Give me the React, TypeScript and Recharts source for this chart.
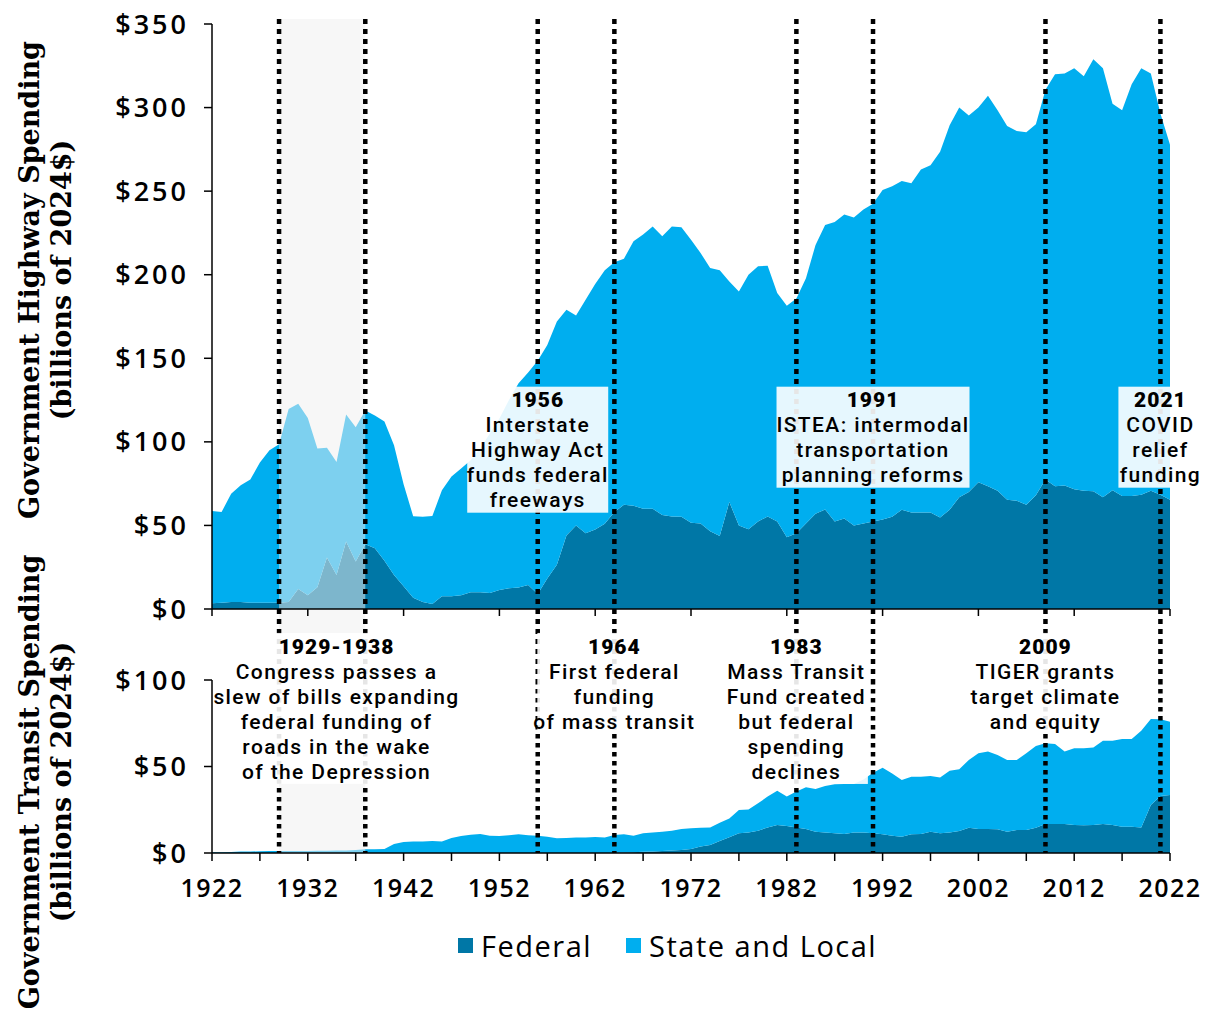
import React from 'react';
import {
  AreaChart,
  Area,
  XAxis,
  YAxis,
  ReferenceLine,
  ReferenceArea,
} from 'recharts';

const years = Array.from({ length: 101 }, (_, i) => 1922 + i);

// Highway spending, billions of 2024$
const hwFederal = [
  3.5, 3.8, 4.2, 4.2, 3.8, 3.8, 3.8, 3.8, 4.2, 12,
  8.2, 13, 30.8, 20.4, 40.4, 28.4, 38.7, 36.4, 28.9, 20.4,
  13.6, 6.8, 4.2, 3, 7.7, 7.7, 8.2, 10, 10, 9.6,
  11.3, 12.4, 12.9, 14.3, 8.9, 18.3, 26.5, 44, 50, 45.3,
  47.6, 51, 58, 62.3, 61.7, 60, 60, 56.3, 55.4, 55.2,
  51.6, 51.2, 46.5, 43.7, 64, 50, 47.7, 52.3, 55.4, 52.3,
  43, 45.3, 51.2, 57, 59.6, 52.3, 54.2, 50, 51.2, 52.3,
  53.5, 55.2, 59.4, 57.7, 57.7, 57.7, 54.7, 59.4, 66.9, 70,
  75.8, 73.5, 70.7, 65.3, 64.8, 62.4, 68, 77.5, 73.5, 73.9,
  71.6, 70.7, 70.4, 66.9, 71.1, 67.6, 67.6, 68.3, 70.7, 68.3,
  65.3,
];
const hwStateLocal = [
  55.2, 54.2, 64.8, 69.8, 73.7, 83.8, 91.2, 94.8, 115.5, 110.8,
  106.1, 83, 65.7, 67.6, 76, 80.3, 80.1, 79.3, 83.3, 77.6,
  61, 48.7, 51, 52.6, 63.3, 71.6, 75.8, 79, 86, 95.4,
  102.7, 112.6, 122.1, 127.2, 139.7, 139.7, 145.5, 135, 125.6, 139.7,
  146.8, 151.6, 149.5, 147.3, 158.3, 164, 168.9, 166.7, 173.5, 173.2,
  169.3, 161.8, 157.5, 158.9, 132, 140, 152.3, 152.7, 150, 136.7,
  138.5, 140.4, 146.7, 160.8, 170.2, 179.2, 181.8, 184.3, 187.8, 190.2,
  197.2, 197.8, 196.6, 197, 205.3, 207.8, 218.8, 230, 233.1, 225.3,
  224.2, 233.5, 227.7, 223.7, 221.2, 222.8, 222, 233.1, 246.5, 246.5,
  251.9, 248.1, 258.5, 256.6, 231.2, 230.8, 246.4, 255.2, 249.7, 228.2,
  212.4,
];

// Transit spending, billions of 2024$
const trFederal = [
  0, 0, 0, 0, 0, 0, 0, 0, 0, 0,
  0, 0, 0, 0, 0, 0, 0, 0, 0, 0,
  0, 0, 0, 0, 0, 0, 0, 0, 0, 0,
  0, 0, 0, 0, 0, 0, 0, 0, 0, 0,
  0, 0, 0, 0.3, 0.5, 0.7, 0.9, 1.1, 1.4, 1.8,
  2.3, 3.7, 4.6, 6.9, 9.1, 11.4, 11.8, 12.9, 14.8, 16.2,
  15.6, 14.8, 13.9, 12.3, 11.8, 11.4, 11, 11.8, 11.8, 11.4,
  10.8, 10, 9.4, 10.8, 11, 12.3, 11.4, 11.8, 12.7, 14.6,
  13.9, 13.9, 13.7, 12.3, 13.3, 13.3, 14.6, 16.8, 16.8, 16.8,
  16.2, 16, 16.2, 16.8, 16.2, 15.2, 15.2, 14.8, 27.7, 33,
  33.5,
];
const trStateLocal = [
  0.4, 0.5, 0.6, 0.8, 0.9, 1, 1.1, 1.2, 1.2, 1.2,
  1.2, 1.3, 1.3, 1.4, 1.5, 1.7, 2.1, 2.1, 2.3, 5.2,
  6.4, 6.6, 6.7, 6.9, 6.6, 8.7, 9.8, 10.6, 11, 10,
  9.8, 10.2, 10.8, 10.2, 10, 9.4, 8.5, 8.7, 8.9, 8.9,
  9.2, 9, 10.4, 10.5, 9.5, 10.7, 11, 11.2, 11.5, 12.1,
  12, 10.9, 10.2, 10.6, 10.9, 13.5, 13.4, 15.8, 17.8, 19.8,
  17, 20.7, 24.1, 24.7, 26.9, 28.3, 28.9, 28.1, 30.7, 35,
  38.5, 36, 32.8, 33.3, 33.1, 32.2, 32.3, 35.8, 35.7, 39.2,
  43.7, 44.7, 42.9, 41.5, 40.5, 44.3, 47.2, 46.6, 46.2, 41.8,
  44.3, 44.5, 44.8, 48.1, 48.7, 50.7, 50.7, 55.9, 49.8, 44.3,
  42.4,
];

const hwTicks = [0, 50, 100, 150, 200, 250, 300, 350];
const trTicks = [0, 50, 100];
const decadeTicks = [1922, 1932, 1942, 1952, 1962, 1972, 1982, 1992, 2002, 2012, 2022];
const halfDecadeTicks = [
  1922, 1927, 1932, 1937, 1942, 1947, 1952, 1957, 1962, 1967, 1972,
  1977, 1982, 1987, 1992, 1997, 2002, 2007, 2012, 2017, 2022,
];

const eventYears = [1929, 1938, 1956, 1964, 1983, 1991, 2009, 2021];

const topNotes = [
  { year: 1956, title: '1956', lines: ['Interstate', 'Highway Act', 'funds federal', 'freeways'] },
  { year: 1991, title: '1991', lines: ['ISTEA: intermodal', 'transportation', 'planning reforms'] },
  { year: 2021, title: '2021', lines: ['COVID', 'relief', 'funding'] },
];
const bottomNotes = [
  { year: 1935, title: '1929-1938', lines: ['Congress passes a', 'slew of bills expanding', 'federal funding of', 'roads in the wake', 'of the Depression'] },
  { year: 1964, title: '1964', lines: ['First federal', 'funding', 'of mass transit'] },
  { year: 1983, title: '1983', lines: ['Mass Transit', 'Fund created', 'but federal', 'spending', 'declines'] },
  { year: 2009, title: '2009', lines: ['TIGER grants', 'target climate', 'and equity'] },
];

// box widths for the note labels (px)
const noteWidth: Record<string, number> = {
  '1956': 141, '1991': 193, '2021': 84,
  '1929-1938': 246, '1964': 154, '1983': 143, '2009': 154,
};

const FEDERAL = '#0077a6';
const STATE = '#00aeef';
const FONT = '"Open Sans", sans-serif';
const NOTE_FONT = 'Roboto, sans-serif';

const hwData = years.map((year, i) => ({ year, federal: hwFederal[i], stateLocal: hwStateLocal[i] }));
const trData = years.map((year, i) => ({ year, federal: trFederal[i], stateLocal: trStateLocal[i] }));

const NoteBox = ({ viewBox, title, lines }: any) => {
  if (!viewBox) return null;
  const cx = viewBox.x;
  const top = viewBox.y;
  const w = noteWidth[title] || 150;
  const h = 26 + 25 * lines.length;
  return (
    <g>
      <rect x={cx - w / 2} y={top} width={w} height={h} fill="#fff" fillOpacity={0.9} />
      <text x={cx} y={top + 13} dy="0.36em" textAnchor="middle" fontFamily={NOTE_FONT} fontSize={21} fill="#000">
        <tspan x={cx} fontWeight={900} letterSpacing={1}>{title}</tspan>
        {lines.map((l: string) => (
          <tspan key={l} x={cx} dy={25} fontWeight={500} letterSpacing={1.4}>
            {l}
          </tspan>
        ))}
      </text>
    </g>
  );
};

const axisStroke = { stroke: '#000', strokeWidth: 1.5 };
const yTickText = { fill: '#000', fontSize: 27, fontFamily: FONT, fontWeight: 600, letterSpacing: 3 };
const xTickText = { fill: '#000', fontSize: 25, fontFamily: FONT, fontWeight: 600, letterSpacing: 1.5 };

const App: React.FC = () => {
  return (
    <div style={{ position: 'absolute', left: 0, top: 0, width: 1214, height: 1013, background: '#fff', overflow: 'hidden' }}>
      {/* highway panel */}
      <div style={{ position: 'absolute', left: 0, top: 0 }}>
        <AreaChart width={1214} height={680} data={hwData} margin={{ top: 24, right: 44, bottom: 64, left: 0 }}>
          <XAxis
            dataKey="year"
            type="number"
            domain={[1922, 2022]}
            ticks={decadeTicks}
            interval={0}
            tickFormatter={() => ''}
            tickSize={7}
            height={7}
            axisLine={axisStroke}
            tickLine={axisStroke}
          />
          <YAxis
            domain={[0, 350]}
            ticks={hwTicks}
            interval={0}
            width={212}
            tickSize={8}
            tickMargin={15}
            tickFormatter={(v) => `$${v}`}
            tick={yTickText}
            axisLine={axisStroke}
            tickLine={axisStroke}
          />
          <Area type="linear" dataKey="federal" stackId="1" stroke="none" fill={FEDERAL} fillOpacity={1} isAnimationActive={false} />
          <Area type="linear" dataKey="stateLocal" stackId="1" stroke="none" fill={STATE} fillOpacity={1} isAnimationActive={false} />
          <ReferenceArea x1={1929} x2={1938} y1={-42.5} y2={353} ifOverflow="visible" fill="#f0f0f0" fillOpacity={0.52} stroke="none" />
          {eventYears.map((y) => (
            <ReferenceLine
              key={`hw-${y}`}
              segment={[{ x: y, y: 353 }, { x: y, y: -42.5 }]}
              ifOverflow="visible"
              stroke="#000"
              strokeWidth={4.5}
              strokeDasharray="5 5"
            />
          ))}
          {topNotes.map((n) => (
            <ReferenceLine
              key={`hwn-${n.title}`}
              segment={[{ x: n.year, y: 133 }, { x: n.year, y: 0 }]}
              stroke="none"
              label={<NoteBox title={n.title} lines={n.lines} />}
            />
          ))}
        </AreaChart>
      </div>

      {/* transit panel */}
      <div style={{ position: 'absolute', left: 0, top: 620 }}>
        <AreaChart width={1214} height={283} data={trData} margin={{ top: 60, right: 44, bottom: 0, left: 0 }}>
          <XAxis
            dataKey="year"
            type="number"
            domain={[1922, 2022]}
            ticks={halfDecadeTicks}
            interval={0}
            tickFormatter={(v) => ((v - 1922) % 10 === 0 ? String(v) : '')}
            tickSize={8}
            tickMargin={18}
            height={50}
            tick={xTickText}
            axisLine={axisStroke}
            tickLine={axisStroke}
          />
          <YAxis
            domain={[0, 100]}
            ticks={trTicks}
            interval={0}
            width={212}
            tickSize={8}
            tickMargin={15}
            tickFormatter={(v) => `$${v}`}
            tick={yTickText}
            axisLine={axisStroke}
            tickLine={axisStroke}
          />
          <Area type="linear" dataKey="federal" stackId="1" stroke="none" fill={FEDERAL} fillOpacity={1} isAnimationActive={false} />
          <Area type="linear" dataKey="stateLocal" stackId="1" stroke="none" fill={STATE} fillOpacity={1} isAnimationActive={false} />
          <ReferenceArea x1={1929} x2={1938} y1={0} y2={100} ifOverflow="visible" fill="#f0f0f0" fillOpacity={0.52} stroke="none" />
          {eventYears.map((y) => (
            <ReferenceLine
              key={`tr-${y}`}
              segment={[{ x: y, y: 100 }, { x: y, y: 0 }]}
              ifOverflow="visible"
              stroke="#000"
              strokeWidth={4.5}
              strokeDasharray="4.5 4.5"
            />
          ))}
          {bottomNotes.map((n) => (
            <ReferenceLine
              key={`trn-${n.title}`}
              segment={[{ x: n.year, y: 127.2 }, { x: n.year, y: 100 }]}
              ifOverflow="visible"
              stroke="none"
              label={<NoteBox title={n.title} lines={n.lines} />}
            />
          ))}
        </AreaChart>
      </div>

      {/* axis titles */}
      <div
        style={{
          position: 'absolute', left: 46 - 260, top: 280 - 32, width: 520, height: 64,
          transform: 'rotate(-90deg)', textAlign: 'center', lineHeight: '32px',
          fontFamily: '"DejaVu Serif", serif', fontWeight: 700, fontSize: 27, color: '#000', whiteSpace: 'nowrap',
        }}
      >
        <div>Government Highway Spending</div>
        <div>(billions of 2024$)</div>
      </div>
      <div
        style={{
          position: 'absolute', left: 46 - 260, top: 782 - 32, width: 520, height: 64,
          transform: 'rotate(-90deg)', textAlign: 'center', lineHeight: '32px',
          fontFamily: '"DejaVu Serif", serif', fontWeight: 700, fontSize: 27, color: '#000', whiteSpace: 'nowrap',
        }}
      >
        <div>Government Transit Spending</div>
        <div>(billions of 2024$)</div>
      </div>

      {/* legend */}
      <div
        style={{
          position: 'absolute', left: 458, top: 926, height: 38, display: 'flex', alignItems: 'center',
          fontFamily: FONT, fontSize: 29, fontWeight: 500, color: '#000', letterSpacing: 1.5,
        }}
      >
        <span style={{ width: 15, height: 15, background: FEDERAL, display: 'inline-block', marginRight: 8 }} />
        <span style={{ marginRight: 34 }}>Federal</span>
        <span style={{ width: 15, height: 15, background: STATE, display: 'inline-block', marginRight: 8 }} />
        <span>State and Local</span>
      </div>
    </div>
  );
};

export default App;
